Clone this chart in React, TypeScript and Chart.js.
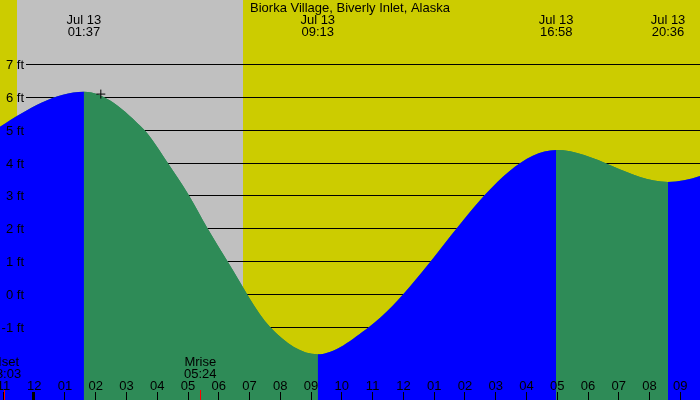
import { useEffect, useRef } from 'react';
import { Chart, registerables } from 'chart.js';

Chart.register(...registerables);

const stationName = 'Biorka Village, Biverly Inlet, Alaska';
const dateLabel = 'Jul 13';

// Water level samples (day offset from Jul 13, local time, height in ft)
const levelDays = [-1, -1, 0, 0, 0, 0, 0, 0, 0, 0, 0, 0, 0, 1, 1];
const levelTimes = [
  '16:10', '19:48', '01:37', '03:34', '04:20', '05:02', '05:38', '06:17',
  '07:40', '09:13', '10:53', '16:58', '20:36', '03:36', '10:05',
];
const levelHeights = [4.4, 3.8, 6.15, 5.0, 4.0, 3.0, 2.0, 1.0, -1.0, -1.83, -1.0, 4.38, 3.41, 6.4, -1.6];

// High and low water times printed above the curve
const extremeTimes = ['01:37', '09:13', '16:58', '20:36'];

// Daylight
const sunsetDay = -1;
const sunsetTime = '23:27';
const sunriseDay = 0;
const sunriseTime = '06:47';

// Moon events
const moonNames = ['Mset', 'Mrise'];
const moonDays = [-1, 0];
const moonTimes = ['23:03', '05:24'];

// Current position marker
const nowTime = '02:10';
const nowHeight = 6.08;

// Axis ranges and ticks
const viewStartHour = -1.11;
const viewEndHour = 21.64;
const heightMin = -3.22;
const heightMax = 8.94;
const heightTicks = [-1, 0, 1, 2, 3, 4, 5, 6, 7];
const firstTickHour = -1;
const hourTickLabels = [
  '11', '12', '01', '02', '03', '04', '05', '06', '07', '08', '09', '10',
  '11', '12', '01', '02', '03', '04', '05', '06', '07', '08', '09',
];

const DAY = '#cccc00';
const NIGHT = '#c0c0c0';
const RISING = '#0000ff';
const FALLING = '#2e8b57';
const FONT = '13px "Liberation Sans", Arial, sans-serif';

const toHours = (day: number, hhmm: string) => {
  const [h, m] = hhmm.split(':').map(Number);
  return day * 24 + h + m / 60;
};

const levelPoints = levelTimes.map((t, i) => ({ x: toHours(levelDays[i], t), y: levelHeights[i] }));

const backdropPlugin = {
  id: 'tideBackdrop',
  beforeDatasetsDraw(chart: any) {
    const { ctx, width, height, scales } = chart;
    const xs = scales.x;
    const ys = scales.y;
    ctx.save();
    ctx.fillStyle = DAY;
    ctx.fillRect(0, 0, width, height);
    const n0 = xs.getPixelForValue(toHours(sunsetDay, sunsetTime));
    const n1 = xs.getPixelForValue(toHours(sunriseDay, sunriseTime));
    ctx.fillStyle = NIGHT;
    ctx.fillRect(Math.round(n0), 0, Math.round(n1) - Math.round(n0), height);

    ctx.strokeStyle = '#000';
    ctx.lineWidth = 1;
    ctx.beginPath();
    heightTicks.forEach((v) => {
      const py = Math.round(ys.getPixelForValue(v)) + 0.5;
      ctx.moveTo(26, py);
      ctx.lineTo(width, py);
    });
    ctx.stroke();
    ctx.restore();
  },
  afterDatasetsDraw(chart: any) {
    const { ctx, width, height, scales } = chart;
    const xs = scales.x;
    const ys = scales.y;
    ctx.save();
    ctx.font = FONT;
    ctx.fillStyle = '#000';
    ctx.textBaseline = 'middle';

    // Title
    ctx.textAlign = 'center';
    ctx.fillText(stationName, width / 2, 8);

    // High / low times above the curve
    extremeTimes.forEach((t) => {
      const px = xs.getPixelForValue(toHours(0, t));
      ctx.fillText(dateLabel, px, 20);
      ctx.fillText(t, px, 32);
    });

    // Height labels
    ctx.textAlign = 'right';
    heightTicks.forEach((v) => {
      ctx.fillText(`${v} ft`, 24, Math.round(ys.getPixelForValue(v)) + 1);
    });

    // Hour ticks along the bottom
    ctx.textAlign = 'center';
    hourTickLabels.forEach((label, i) => {
      const hour = firstTickHour + i;
      const px = xs.getPixelForValue(hour);
      if (hour % 24 === 0) {
        ctx.fillRect(Math.round(px) - 2, height - 8, 3, 8);
      } else {
        ctx.fillRect(Math.floor(px), height - 8, 1, 8);
      }
      ctx.fillText(label, px, height - 14);
    });

    // Moon rise / set
    moonNames.forEach((name, i) => {
      const px = xs.getPixelForValue(toHours(moonDays[i], moonTimes[i]));
      ctx.fillStyle = '#ff0000';
      ctx.fillRect(Math.floor(px), height - 10, 1, 10);
      ctx.fillStyle = '#000';
      ctx.fillText(name, px, height - 38);
      ctx.fillText(moonTimes[i], px, height - 26);
    });
    ctx.restore();
  },
};

export default function App() {
  const canvasRef = useRef<HTMLCanvasElement | null>(null);

  useEffect(() => {
    document.body.style.margin = '0';
    const canvas = canvasRef.current;
    if (!canvas) return;
    const chart = new Chart(canvas, {
      type: 'line',
      data: {
        datasets: [
          {
            // water level, coloured by rising / falling stretch
            data: levelPoints,
            fill: 'start',
            cubicInterpolationMode: 'monotone',
            borderWidth: 0,
            borderColor: 'rgba(0,0,0,0)',
            backgroundColor: FALLING,
            pointRadius: 0,
            segment: {
              backgroundColor: (c: any) => (c.p1.parsed.y >= c.p0.parsed.y ? RISING : FALLING),
            },
            order: 2,
          } as any,
          {
            // solid base under the coloured stretches so their joins stay closed
            data: levelPoints,
            fill: 'start',
            cubicInterpolationMode: 'monotone',
            borderWidth: 0,
            borderColor: 'rgba(0,0,0,0)',
            backgroundColor: FALLING,
            pointRadius: 0,
            order: 3,
          } as any,
          {
            data: [{ x: toHours(0, nowTime), y: nowHeight }],
            showLine: false,
            fill: false,
            pointStyle: 'cross',
            pointRadius: 4.5,
            pointBorderWidth: 1,
            pointBorderColor: '#000',
            borderColor: '#000',
            order: 1,
          } as any,
        ],
      },
      options: {
        responsive: false,
        animation: false,
        events: [],
        devicePixelRatio: 1,
        layout: { padding: 0, autoPadding: false },
        plugins: {
          legend: { display: false },
          tooltip: { enabled: false },
        },
        scales: {
          x: { type: 'linear', min: viewStartHour, max: viewEndHour, display: false },
          y: { type: 'linear', min: heightMin, max: heightMax, display: false },
        },
      },
      plugins: [backdropPlugin],
    });
    return () => chart.destroy();
  }, []);

  return (
    <div style={{ position: 'fixed', left: 0, top: 0, width: 700, height: 400 }}>
      <canvas ref={canvasRef} width={700} height={400} style={{ display: 'block' }} />
    </div>
  );
}
